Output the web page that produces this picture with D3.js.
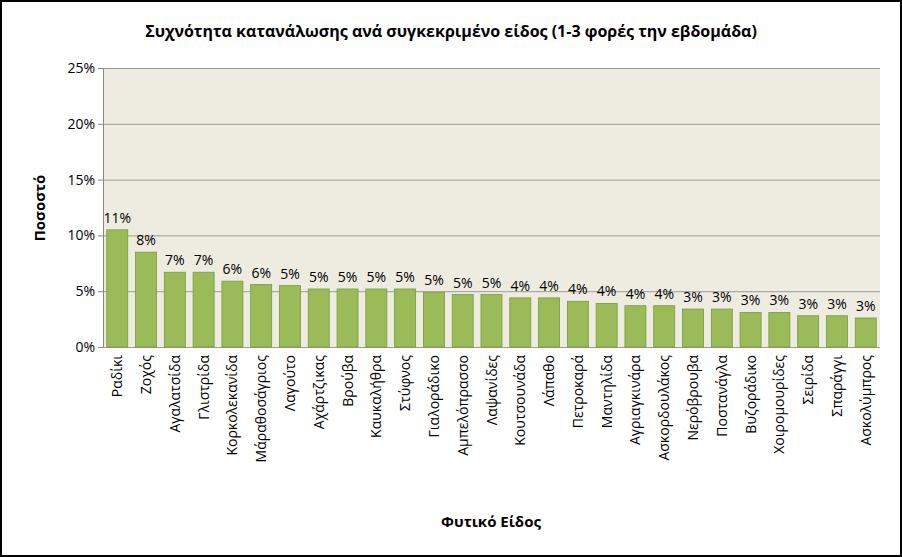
<!DOCTYPE html>
<html><head><meta charset="utf-8">
<script src="https://cdn.jsdelivr.net/npm/d3@7"></script>
<style>body{margin:0;background:#fff}text{font-family:"Open Sans","Liberation Sans",sans-serif}</style>
</head><body><svg id="c" width="902" height="557"></svg>
<script>
const categories=["Ραδίκι","Ζοχός","Αγαλατσίδα","Γλιστρίδα","Κορκολεκανίδα","Μάραθοσάγριος","Λαγούτο","Αχάρτζικας","Βρούβα","Καυκαλήθρα","Στύφνος","Γιαλοράδικο","Αμπελόπρασσο","Λαψανίδες","Κουτσουνάδα","Λάπαθο","Πετροκαρά","Μαντηλίδα","Αγριαγκινάρα","Ασκορδουλάκος","Νερόβρουβα","Ποστανάγλα","Βυζοράδικο","Χοιρομουρίδες","Σειρίδα","Σπαράγγι","Ασκολύμπρος"];
const values=[10.5,8.5,6.7,6.7,5.9,5.6,5.5,5.2,5.2,5.2,5.2,4.9,4.7,4.7,4.4,4.4,4.1,3.9,3.7,3.7,3.4,3.4,3.1,3.1,2.8,2.8,2.6];
const labels=["11%","8%","7%","7%","6%","6%","5%","5%","5%","5%","5%","5%","5%","5%","4%","4%","4%","4%","4%","4%","3%","3%","3%","3%","3%","3%","3%"];
const yTicks=[0,5,10,15,20,25];
const svg=d3.select("#c");
svg.append("rect").attr("x",1).attr("y",1).attr("width",900).attr("height",555).attr("fill","#fff").attr("stroke","#000").attr("stroke-width",2);
const L=103,R=880,T=68,B=347;
const x=d3.scaleBand().domain(categories).range([L,R]).paddingInner(0.27).paddingOuter(0.13);
const y=d3.scaleLinear().domain([0,25]).range([B,T]);
svg.append("rect").attr("x",L).attr("y",T).attr("width",R-L).attr("height",B-T).attr("fill","#EEECE1");
svg.selectAll(".g").data(yTicks).join("line").attr("x1",L).attr("x2",R).attr("y1",d=>y(d)+.5).attr("y2",d=>y(d)+.5).attr("stroke","#9a9a9a");
svg.append("line").attr("x1",L+.5).attr("x2",L+.5).attr("y1",T).attr("y2",B).attr("stroke","#888");
svg.selectAll(".yt").data(yTicks).join("line").attr("x1",L-5).attr("x2",L).attr("y1",d=>y(d)+.5).attr("y2",d=>y(d)+.5).attr("stroke","#888");
svg.selectAll(".yl").data(yTicks).join("text").attr("x",L-8).attr("y",d=>y(d)+5).attr("text-anchor","end").attr("font-size",14).text(d=>d+"%");
svg.selectAll(".bar").data(values).join("rect").attr("x",(d,i)=>x(categories[i])).attr("y",d=>y(d)).attr("width",x.bandwidth()).attr("height",d=>B-y(d)).attr("fill","#9BBB59").attr("stroke","#7a9a3e").attr("stroke-width",0.8);
svg.selectAll(".vl").data(values).join("text").attr("x",(d,i)=>x(categories[i])+x.bandwidth()/2).attr("y",d=>y(d)-7).attr("text-anchor","middle").attr("font-size",14).text((d,i)=>labels[i]);
svg.selectAll(".xl").data(categories).join("text").attr("transform",d=>`translate(${x(d)+x.bandwidth()/2+5},355) rotate(-90)`).attr("text-anchor","end").attr("font-size",14).text(d=>d);
svg.append("text").attr("x",451).attr("y",37).attr("text-anchor","middle").attr("font-size",16).attr("font-weight","bold").text("Συχνότητα κατανάλωσης ανά συγκεκριμένο είδος (1-3 φορές την εβδομάδα)");
svg.append("text").attr("transform","translate(45,208) rotate(-90)").attr("text-anchor","middle").attr("font-size",15).attr("font-weight","bold").text("Ποσοστό");
svg.append("text").attr("x",491).attr("y",527).attr("text-anchor","middle").attr("font-size",15).attr("font-weight","bold").text("Φυτικό Είδος");
</script></body></html>
